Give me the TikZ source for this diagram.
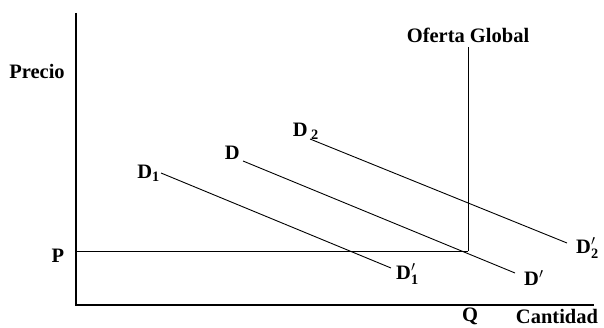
\documentclass[tikz,border=0pt]{standalone}
\usepackage{fontspec}
\setmainfont{Liberation Serif}
\usetikzlibrary{positioning}

\begin{document}
\begin{tikzpicture}[x=1pt,y=-1pt,font=\fontsize{20.5}{24}\selectfont\bfseries]

    \tikzset{
        axis/.style={line width=1.3pt},
        curve/.style={line width=0.9pt},
        lbl/.style={inner sep=1pt}
    }
    \useasboundingbox (0,0) rectangle (604,328);

    % ==========================================
    % Axes
    % ==========================================
    \coordinate (ytop) at (76,13);
    \coordinate (origin) at (76,305);
    \coordinate (xend) at (594,305);
    \draw[axis] (ytop) -- (origin) -- (xend);
    \node[lbl] (precio) at (37,71) {Precio};
    \node[lbl] (cantidad) at (557,316) {Cantidad};

    % Price level and global supply
    \coordinate (pstart) at (76,251);
    \coordinate (eq) at (468,251);
    \coordinate (stop) at (468,47);
    \draw[curve] (pstart) -- (eq);
    \draw[curve] (eq) -- (stop);
    \node[lbl] (plabel) at (58,256) {P};
    \node[lbl] (qlabel) at (470,316) {Q};
    \node[lbl, above=3pt of stop] (oferta) {Oferta Global};

    % ==========================================
    % Demand curves
    % ==========================================
    \coordinate (d1a) at (161,173);
    \coordinate (d1b) at (391,268);
    \coordinate (da) at (243,161);
    \coordinate (db) at (515,273);
    \coordinate (d2a) at (310,139);
    \coordinate (d2b) at (567,243);
    \draw[curve] (d1a) -- (d1b);
    \draw[curve] (da) -- (db);
    \draw[curve] (d2a) -- (d2b);

    \node[lbl, anchor=east] (d1lbl) at (d1a) {D$_{\mathbf{1}}$};
    \node[lbl, anchor=south east] (dlbl) at ([xshift=-2pt]da) {D};
    \node[lbl, anchor=south east] (d2lbl) at ([xshift=10pt,yshift=-2pt]d2a) {D\,$_{\mathbf{2}}$};
    \node[lbl, anchor=west] (d1plbl) at ([xshift=4pt,yshift=-6pt]d1b) {D$'_{\mathbf{1}}$};
    \node[lbl, anchor=west] (dplbl) at ([xshift=8pt,yshift=-5pt]db) {D$'$};
    \node[lbl, anchor=west] (d2plbl) at ([xshift=8pt,yshift=-5pt]d2b) {D$'_{\mathbf{2}}$};

\end{tikzpicture}
\end{document}
